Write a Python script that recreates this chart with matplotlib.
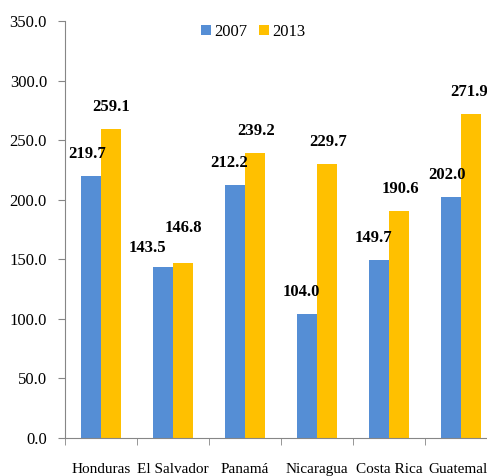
import numpy as np
import matplotlib.pyplot as plt

plt.rcParams['font.family'] = 'Liberation Serif'

countries = ['Honduras', 'El Salvador', 'Panamá', 'Nicaragua', 'Costa Rica', 'Guatemala']
vals_2007 = [219.7, 143.5, 212.2, 104.0, 149.7, 202.0]
vals_2013 = [259.1, 146.8, 239.2, 229.7, 190.6, 271.9]

# label nudges (points), the original had hand-placed data labels
off_2007 = [(-3, 10), (-11, 8), (-4, 10), (-4, 10), (-4, 10), (-3, 10)]
off_2013 = [(0, 10), (0, 19.5), (1, 10), (1, 10), (1, 10), (-1.5, 10)]

blue = '#558ED5'
yellow = '#FFC000'

fig = plt.figure(figsize=(4.87, 4.76), dpi=100)
# axes runs past the right edge like the original crop
ax = fig.add_axes([65 / 487, 38 / 476, 432 / 487, 417 / 476])

ind = np.arange(len(countries))
width = 0.28
b1 = ax.bar(ind - width / 2, vals_2007, width, color=blue, label='2007')
b2 = ax.bar(ind + width / 2, vals_2013, width, color=yellow, label='2013')

for bars, offs in ((b1, off_2007), (b2, off_2013)):
    for r, off in zip(bars, offs):
        h = r.get_height()
        ax.annotate(f'{h:.1f}', (r.get_x() + r.get_width() / 2, h),
                    xytext=off, textcoords='offset points',
                    ha='center', va='bottom', fontsize=12, fontweight='bold')

ax.set_ylim(0, 350)
ax.set_yticks(np.arange(0, 351, 50))
ax.set_yticklabels([f'{v:.1f}' for v in np.arange(0, 351, 50)], fontsize=12)
ax.set_xlim(-0.5, len(countries) - 0.5)
ax.set_xticks(ind)
ax.set_xticklabels(countries, fontsize=11)
ax.tick_params(axis='x', length=0, pad=18)
ax.set_xticks(np.arange(-0.5, len(countries), 1), minor=True)
ax.tick_params(axis='x', which='minor', length=5, color='#868686')
ax.tick_params(axis='y', length=5, pad=8, color='#868686')

for s in ('top', 'right'):
    ax.spines[s].set_visible(False)
for s in ('left', 'bottom'):
    ax.spines[s].set_color('#868686')

ax.legend(loc='center', bbox_to_anchor=(0.435, 0.974), ncol=2, frameon=False,
          fontsize=12, handlelength=0.6, handleheight=0.6, handletextpad=0.2,
          columnspacing=0.7, borderpad=0)

fig.savefig('out.png', dpi=100)
